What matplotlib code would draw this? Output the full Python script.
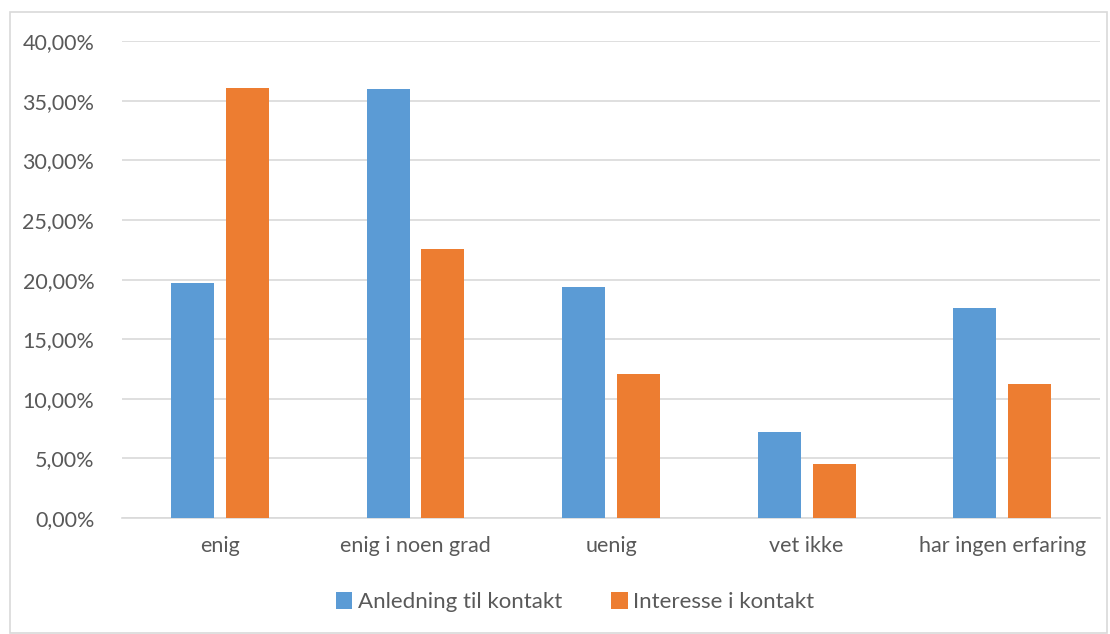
import matplotlib.pyplot as plt
import numpy as np
from matplotlib.patches import Rectangle
from matplotlib.ticker import FuncFormatter

categories = ["enig", "enig i noen grad", "uenig", "vet ikke", "har ingen erfaring"]
anledning = [19.75, 36.0, 19.4, 7.2, 17.6]
interesse = [36.1, 22.6, 12.1, 4.5, 11.2]

plt.rcParams['font.family'] = ['Lato', 'DejaVu Sans']

fig = plt.figure(figsize=(11.1, 6.34), dpi=100)
ax = fig.add_axes([0.110, 0.183, 0.881, 0.752])

x = np.arange(len(categories))
w = 0.22
ax.bar(x - 0.14, anledning, w, color="#5b9bd5", label="Anledning til kontakt", zorder=3)
ax.bar(x + 0.14, interesse, w, color="#ed7d31", label="Interesse i kontakt", zorder=3)

ax.set_xlim(-0.5, len(categories) - 0.5)
ax.set_ylim(0, 40)
ax.set_yticks(np.arange(0, 41, 5))
ax.yaxis.set_major_formatter(FuncFormatter(lambda v, p: f"{v:.2f}%".replace(".", ",")))
ax.set_xticks(x)
ax.set_xticklabels(categories)
ax.grid(axis="y", color="#d9d9d9", linewidth=1.2, zorder=0)
for s in ["top", "right", "left"]:
    ax.spines[s].set_visible(False)
ax.spines["bottom"].set_color("#d9d9d9")
ax.spines["bottom"].set_linewidth(1.2)
ax.tick_params(axis="both", length=0, labelsize=15.5, labelcolor="#595959")
ax.tick_params(axis="y", pad=20)
ax.tick_params(axis="x", pad=13)

ax.legend(loc="center", bbox_to_anchor=(0.518, 0.05), bbox_transform=fig.transFigure,
          ncol=2, frameon=False, fontsize=16, labelcolor="#595959",
          handlelength=0.75, handleheight=0.75, handletextpad=0.25, columnspacing=2.2)

fig.patches.append(Rectangle((10 / 1110, 1 / 634), 1097 / 1110, 621 / 634,
                             transform=fig.transFigure, fill=False,
                             edgecolor="#d9d9d9", linewidth=1.2))

fig.savefig("out.png", dpi=100)
